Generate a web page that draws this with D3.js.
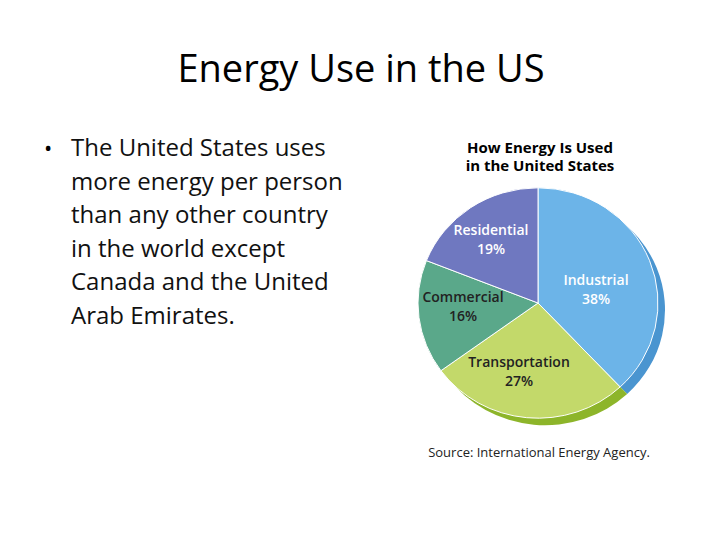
<!DOCTYPE html>
<html><head><meta charset="utf-8">
<script src="https://cdn.jsdelivr.net/npm/d3@7"></script>
<style>body{margin:0;background:#fff}</style></head>
<body><svg id="c" width="720" height="540"></svg>
<script>
const categories=["Industrial","Transportation","Commercial","Residential"];
const values=[38,27,16,19];
const colorsTop=["#6cb4e8","#c3d96a","#5aa88a","#6f78c0"];
const colorsSide=["#4a95d0","#8db52a","#3f8a6c","#4d56a0"];
const svg=d3.select("#c");
svg.append("text").attr("x",361).attr("y",82).attr("text-anchor","middle")
 .attr("font-family","Open Sans, sans-serif").attr("font-size",38).text("Energy Use in the US");
const lines=["The United States uses","more energy per person","than any other country","in the world except","Canada and the United","Arab Emirates."];
svg.append("text").attr("x",44).attr("y",156).attr("font-family","Open Sans, sans-serif").attr("font-size",22).text("•");
lines.forEach((l,i)=>svg.append("text").attr("x",71).attr("y",156+i*33.5)
 .attr("font-family","Open Sans, sans-serif").attr("font-size",24).attr("fill","#111").text(l));
svg.append("text").attr("x",540).attr("y",153).attr("text-anchor","middle").attr("font-family","Open Sans, sans-serif")
 .attr("font-weight","bold").attr("font-size",15).selectAll("tspan").data(["How Energy Is Used","in the United States"])
 .join("tspan").attr("x",540).attr("dy",(d,i)=>i?18:0).text(d=>d);
const pie=d3.pie().sort(null).value(d=>d)(values);
const arc=d3.arc().innerRadius(0).outerRadius(120);
const side=svg.append("g").attr("transform","translate(545,310) scale(1,0.96)");
side.selectAll("path").data(pie).join("path").attr("d",arc).attr("fill",(d,i)=>colorsSide[i]);
const g=svg.append("g").attr("transform","translate(538,303) scale(1,0.96)");
g.selectAll("path").data(pie).join("path").attr("d",arc).attr("fill",(d,i)=>colorsTop[i])
 .attr("stroke","#fff").attr("stroke-width",1);
const labelPos=[[596,285],[519,367],[463,302],[491,235]];
const labelCol=["#fff","#222","#222","#fff"];
categories.forEach((c,i)=>{
 const t=svg.append("text").attr("text-anchor","middle").attr("font-family","Open Sans, sans-serif")
  .attr("font-size",14).attr("font-weight","600").attr("fill",labelCol[i]);
 t.append("tspan").attr("x",labelPos[i][0]).attr("y",labelPos[i][1]).text(c);
 t.append("tspan").attr("x",labelPos[i][0]).attr("y",labelPos[i][1]+19).text(values[i]+"%");
});
svg.append("text").attr("x",539).attr("y",457).attr("text-anchor","middle").attr("font-family","Open Sans, sans-serif")
 .attr("font-size",13).attr("fill","#222").text("Source: International Energy Agency.");
</script></body></html>
